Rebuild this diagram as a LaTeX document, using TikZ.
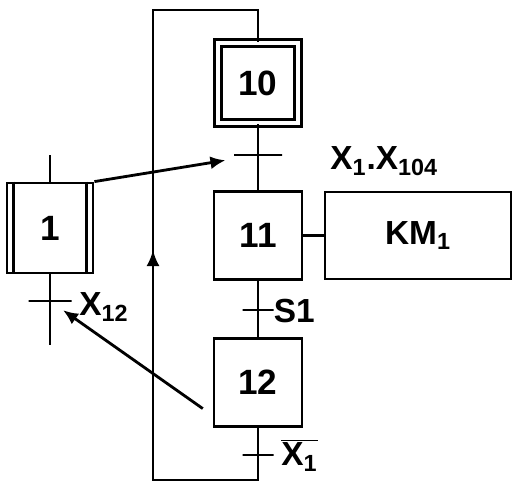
\documentclass[tikz,border=0pt]{standalone}
\usepackage{fontspec}
\setmainfont{Liberation Sans}
\usetikzlibrary{arrows.meta,calc,positioning}
\tikzset{
  stepbox/.style={
    draw,
    line width=1.6pt,
    minimum size=1.76cm,
    inner sep=0pt,
    font=\fontsize{20}{22}\selectfont\bfseries
  },
  initstep/.style={stepbox, double, double distance=0.07cm, minimum size=1.60cm},
  actionbox/.style={
    draw,
    line width=1.6pt,
    minimum width=3.72cm,
    minimum height=1.74cm,
    inner sep=0pt,
    font=\fontsize{19}{21}\selectfont\bfseries
  },
  trans/.style={draw, line width=1.5pt, minimum width=#1, minimum height=0pt, inner sep=0pt},
  trans/.default=0.9cm,
  link/.style={line width=1.5pt},
  jump/.style={line width=1.6pt, -{Latex[length=3mm,width=2.6mm]}},
  cond/.style={font=\fontsize{19}{21}\selectfont\bfseries, anchor=west, inner sep=0pt}
}

\begin{document}
\begin{tikzpicture}[x=1cm,y=1cm]
\useasboundingbox (0,0) rectangle (10.28,9.66);
\fill[white] (0,0) rectangle (10.28,9.66);

% main sequence
\node[initstep] (s10) at (5.16,8.00) {10};
\node[trans=0.96cm] (t10) at (5.16,6.56) {};
\node[stepbox] (s11) at (5.16,4.95) {11};
\node[actionbox] (km1) at (8.36,4.95) {KM\textsubscript{1}};
\node[trans=0.62cm] (t11) at (5.16,3.46) {};
\node[stepbox] (s12) at (5.16,2.01) {12};
\node[trans=0.62cm] (t12) at (5.16,0.56) {};

\node[cond] (c10) at (6.60,6.44) {X\textsubscript{1}.X\textsubscript{104}};
\node[cond] (c11) at (5.47,3.44) {S1};
\node[cond] (c12) at (5.62,0.56) {$\overline{\mbox{X\textsubscript{1}}}$};

\coordinate (loopbr) at (5.16,0.06);
\coordinate (loopbl) at (3.06,0.06);
\coordinate (looptl) at (3.06,9.46);
\coordinate (looptr) at (5.16,9.46);

\draw[link] (s10) -- (t10.center) -- (s11);
\draw[link] (s11) -- (t11.center) -- (s12);
\draw[link] (s12) -- (t12.center) -- (loopbr) -- (loopbl) -- (looptl) -- (looptr) -- (s10);
\draw[link] (s11) -- (km1);
\draw[link, -{Latex[length=3.2mm,width=2.6mm]}] (loopbl) -- (3.06,4.66);

% side step
\node[stepbox, minimum width=1.72cm, minimum height=1.80cm] (s1) at (1.0,5.10) {1};
\draw[line width=1.6pt] ([xshift=0.16cm]s1.north west) -- ([xshift=0.16cm]s1.south west);
\draw[line width=1.6pt] ([xshift=-0.16cm]s1.north east) -- ([xshift=-0.16cm]s1.south east);
\node[trans=0.86cm] (t1) at (1.0,3.64) {};
\node[cond] (c1) at (1.58,3.52) {X\textsubscript{12}};
\coordinate (s1in) at (1.0,6.56);
\coordinate (s1out) at (1.0,2.76);
\draw[link] (s1in) -- (s1);
\draw[link] (s1) -- (t1.center) -- (s1out);

\draw[jump, shorten >=0.66cm] (s1.north east) -- (t10.center);
\draw[jump, shorten <=0.24cm, shorten >=0.32cm] ($(s12.west)+(0,-0.66)$) -- (t1.center);

\end{tikzpicture}
\end{document}
